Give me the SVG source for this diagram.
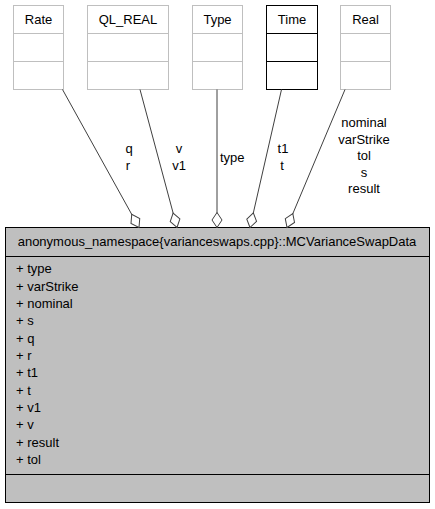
<svg xmlns="http://www.w3.org/2000/svg" width="435" height="509" viewBox="0 0 435 509">
<style>
text{font-family:"Liberation Sans",Arial,sans-serif;font-size:13px;fill:#000}
.c{text-anchor:middle}
.u{fill:#fff;stroke:#bfbfbf;stroke-width:1}
.d{fill:#fff;stroke:#000;stroke-width:1}
.m{fill:#bfbfbf;stroke:#000;stroke-width:1}
.e{fill:none;stroke:#404040;stroke-width:1}
</style>
<defs>
<marker id="dia" markerUnits="userSpaceOnUse" markerWidth="18" markerHeight="12" viewBox="-16 -6 17 12" refX="0" refY="0" orient="auto" overflow="visible">
<path d="M0,0 L-7.5,-5 L-15,0 L-7.5,5 Z" fill="#fff" stroke="#404040" stroke-width="1"/>
</marker>
</defs>
<rect width="435" height="509" fill="#fff"/>
<g id="Rate">
<rect class="u" x="13.5" y="5.5" width="50" height="28"/>
<rect class="u" x="13.5" y="33.5" width="50" height="28"/>
<rect class="u" x="13.5" y="61.5" width="50" height="28"/>
<text class="c" x="38.5" y="23.5">Rate</text>
</g>
<g id="QL_REAL">
<rect class="u" x="87.5" y="5.5" width="81" height="28"/>
<rect class="u" x="87.5" y="33.5" width="81" height="28"/>
<rect class="u" x="87.5" y="61.5" width="81" height="28"/>
<text class="c" x="128" y="23.5">QL_REAL</text>
</g>
<g id="Type">
<rect class="u" x="192.5" y="5.5" width="50" height="28"/>
<rect class="u" x="192.5" y="33.5" width="50" height="28"/>
<rect class="u" x="192.5" y="61.5" width="50" height="28"/>
<text class="c" x="217.5" y="23.5">Type</text>
</g>
<g id="Time">
<rect class="d" x="266.5" y="5.5" width="51" height="28"/>
<rect class="d" x="266.5" y="33.5" width="51" height="28"/>
<rect class="d" x="266.5" y="61.5" width="51" height="28"/>
<text class="c" x="292" y="23.5">Time</text>
</g>
<g id="Real">
<rect class="u" x="340.5" y="5.5" width="50" height="28"/>
<rect class="u" x="340.5" y="33.5" width="50" height="28"/>
<rect class="u" x="340.5" y="61.5" width="50" height="28"/>
<text class="c" x="365.5" y="23.5">Real</text>
</g>
<g id="MCVarianceSwapData">
<rect class="m" x="5.5" y="227.5" width="424" height="29"/>
<rect class="m" x="5.5" y="256.5" width="424" height="218"/>
<rect class="m" x="5.5" y="474.5" width="424" height="28"/>
<text class="c" x="217" y="246">anonymous_namespace{varianceswaps.cpp}::MCVarianceSwapData</text>
<text x="16" y="273.3">+ type</text>
<text x="16" y="290.6">+ varStrike</text>
<text x="16" y="308">+ nominal</text>
<text x="16" y="325.3">+ s</text>
<text x="16" y="342.6">+ q</text>
<text x="16" y="360">+ r</text>
<text x="16" y="377.3">+ t1</text>
<text x="16" y="394.6">+ t</text>
<text x="16" y="412">+ v1</text>
<text x="16" y="429.3">+ v</text>
<text x="16" y="446.6">+ result</text>
<text x="16" y="464">+ tol</text>
</g>
<g id="connectors">
<path class="e" d="M62.5,89.5 L139,227.5" marker-end="url(#dia)"/>
<path class="e" d="M140,89.5 L177,227.5" marker-end="url(#dia)"/>
<path class="e" d="M217,89.5 L217,227.5" marker-end="url(#dia)"/>
<path class="e" d="M281.5,89.5 L250,227.5" marker-end="url(#dia)"/>
<path class="e" d="M345,89.5 L287,227.5" marker-end="url(#dia)"/>
<text class="c" x="129" y="153">q</text>
<text class="c" x="128" y="169.5">r</text>
<text class="c" x="179" y="153">v</text>
<text class="c" x="179" y="169.5">v1</text>
<text x="220" y="161.5">type</text>
<text class="c" x="283" y="153">t1</text>
<text class="c" x="282" y="169.5">t</text>
<text class="c" x="364" y="127">nominal</text>
<text class="c" x="364" y="143.5">varStrike</text>
<text class="c" x="364" y="160">tol</text>
<text class="c" x="364" y="176.5">s</text>
<text class="c" x="364" y="193">result</text>
</g>
</svg>
